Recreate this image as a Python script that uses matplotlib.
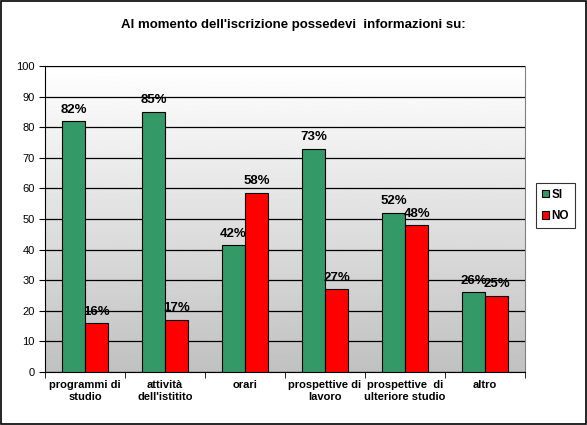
import numpy as np
import matplotlib.pyplot as plt
from matplotlib.patches import Rectangle

categories = ['programmi di\nstudio', 'attività\ndell\'istitito', 'orari',
              'prospettive di\nlavoro', 'prospettive  di\nulteriore studio', 'altro']
si_values = [82, 85, 41.5, 73, 52, 26]
no_values = [16, 17, 58.5, 27, 48, 25]
si_labels = ['82%', '85%', '42%', '73%', '52%', '26%']
no_labels = ['16%', '17%', '58%', '27%', '48%', '25%']

plt.rcParams['font.family'] = ['Liberation Sans', 'DejaVu Sans']

fig = plt.figure(figsize=(5.87, 4.25), dpi=100)
ax = fig.add_axes([45/587, 1 - 372/425, 480/587, 306/425])

# gradient background (white at top, grey at bottom)
grad = np.linspace(1, 0, 256).reshape(-1, 1)
ax.imshow(grad, extent=[-0.5, 5.5, 0, 100], aspect='auto', cmap='gray',
          vmin=-3.1, vmax=1, zorder=0, origin='upper')

x = np.arange(len(categories))
w = 0.29
ax.bar(x - w/2, si_values, w, color='#339966', edgecolor='black', linewidth=0.8,
       label='SI', zorder=3)
ax.bar(x + w/2, no_values, w, color='#ff0000', edgecolor='black', linewidth=0.8,
       label='NO', zorder=3)

for i in range(len(categories)):
    ax.text(x[i] - w/2, si_values[i] + 1.8, si_labels[i], ha='center', va='bottom',
            fontsize=9.5, fontweight='bold', zorder=4)
    ax.text(x[i] + w/2, no_values[i] + 1.8, no_labels[i], ha='center', va='bottom',
            fontsize=9.5, fontweight='bold', zorder=4)

ax.set_xlim(-0.5, 5.5)
ax.set_ylim(0, 100)
ax.set_yticks(range(0, 101, 10))
ax.yaxis.grid(True, color='black', linewidth=0.9)
ax.set_axisbelow(False)
for line in ax.get_ygridlines():
    line.set_zorder(1)

ax.set_xticks(x)
ax.set_xticklabels(categories, fontsize=8, fontweight='bold', linespacing=1.15)
ax.set_xticks(np.arange(-0.5, 6, 1), minor=True)
ax.tick_params(axis='x', which='major', length=0, pad=6)
ax.tick_params(axis='x', which='minor', length=4, direction='out')
ax.tick_params(axis='y', labelsize=8, length=4, direction='out')

for s in ['top', 'right']:
    ax.spines[s].set_color('#808080')
ax.spines['left'].set_color('black')
ax.spines['bottom'].set_color('black')

fig.text(0.5, 1 - 25/425, "Al momento dell'iscrizione possedevi  informazioni su:",
         ha='center', va='center', fontsize=9.5, fontweight='bold')

leg = fig.legend(loc='upper left', bbox_to_anchor=(536/587, 1 - 183/425),
                 fontsize=8.5, frameon=True, fancybox=False, edgecolor='black',
                 handlelength=0.6, handleheight=0.6, handletextpad=0.2,
                 borderpad=0.5, labelspacing=0.8, borderaxespad=0)
for t in leg.get_texts():
    t.set_fontweight('bold')
leg.get_frame().set_linewidth(0.8)

fig.patches.append(Rectangle((0.002, 0.002), 0.996, 0.996, transform=fig.transFigure,
                             fill=False, edgecolor='black', linewidth=1.2))

fig.savefig('out.png', dpi=100)
